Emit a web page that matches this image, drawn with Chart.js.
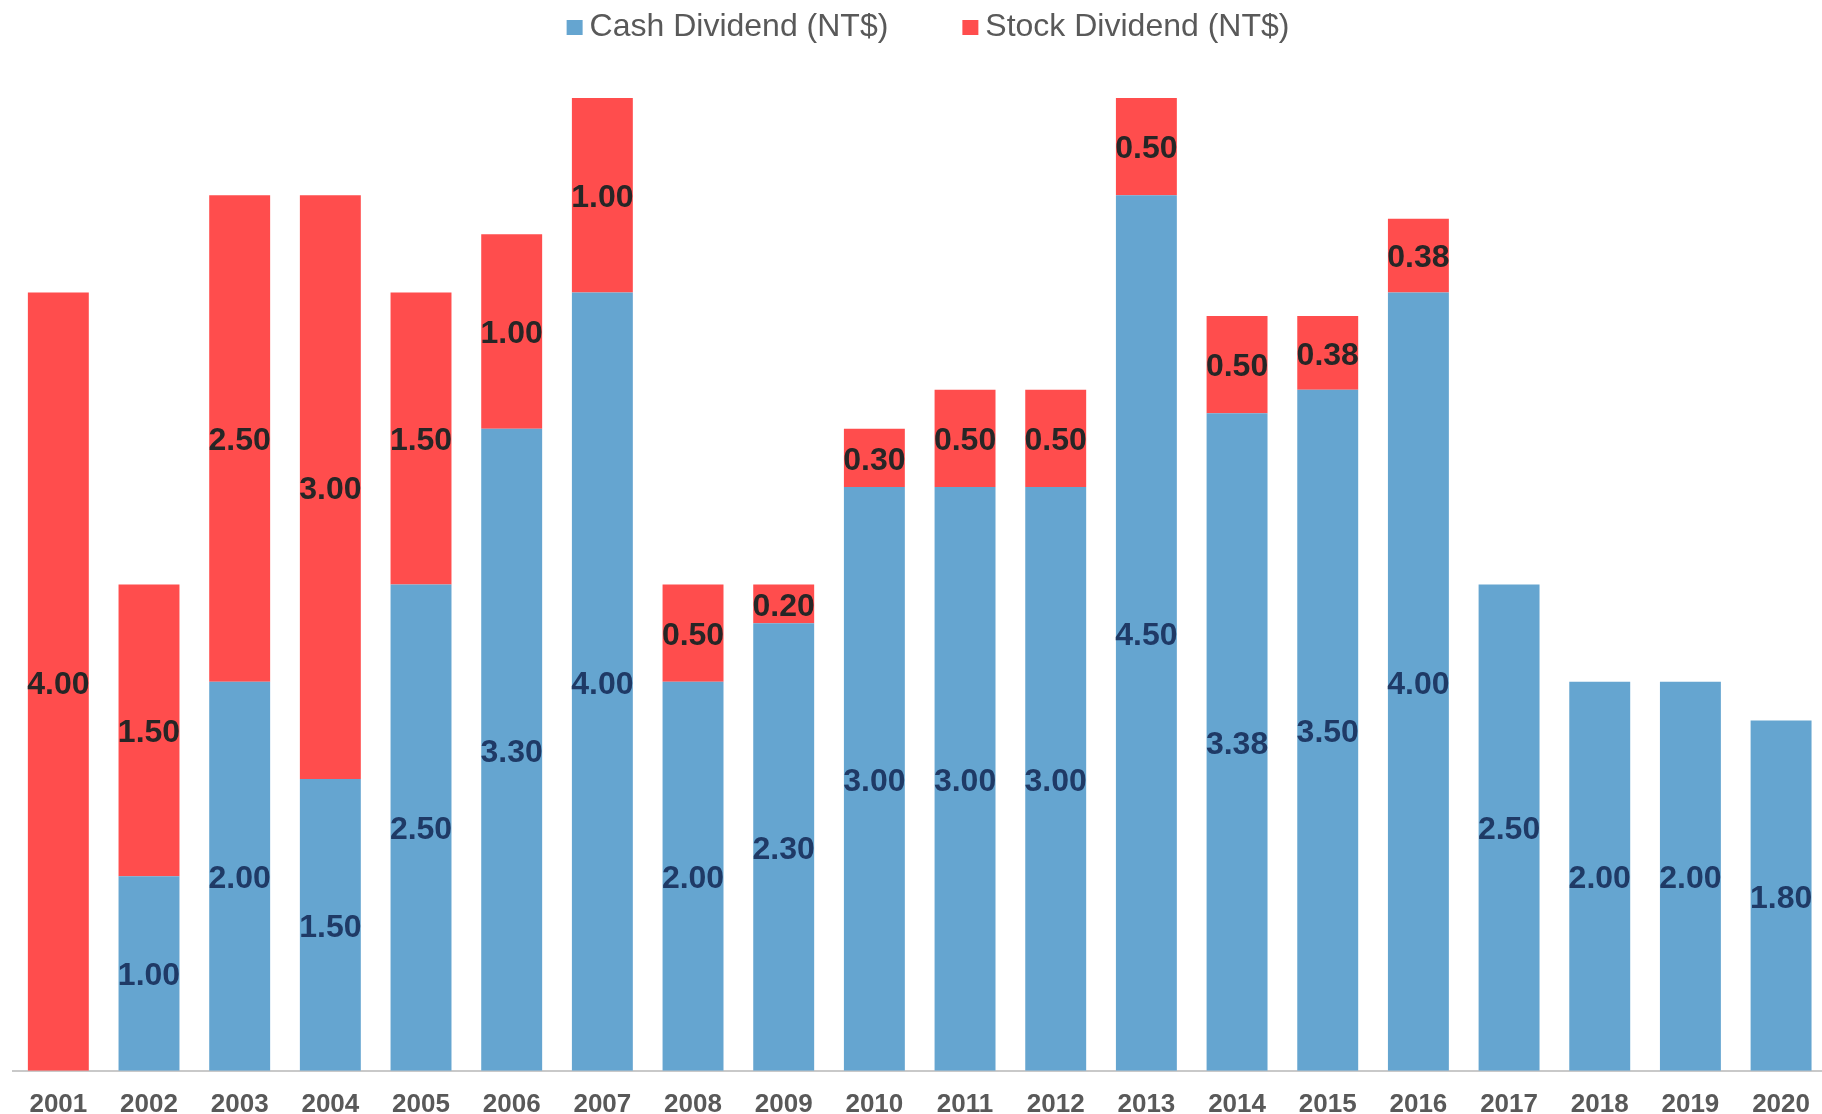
<!DOCTYPE html>
<html>
<head>
<meta charset="utf-8">
<script src="https://cdn.jsdelivr.net/npm/chart.js@4.4.1/dist/chart.umd.min.js"></script>
<style>
  html, body { margin: 0; padding: 0; background: #ffffff; overflow: hidden; width: 1822px; height: 1114px; }
  #wrap { position: absolute; left: 0; top: 0; width: 1828px; height: 1114px; }
</style>
</head>
<body>
<div id="wrap"><canvas id="c" width="1828" height="1114"></canvas></div>
<script>
const years = ['2001','2002','2003','2004','2005','2006','2007','2008','2009','2010',
               '2011','2012','2013','2014','2015','2016','2017','2018','2019','2020'];
const cashDividend  = [0, 1.00, 2.00, 1.50, 2.50, 3.30, 4.00, 2.00, 2.30, 3.00,
                       3.00, 3.00, 4.50, 3.38, 3.50, 4.00, 2.50, 2.00, 2.00, 1.80];
const stockDividend = [4.00, 1.50, 2.50, 3.00, 1.50, 1.00, 1.00, 0.50, 0.20, 0.30,
                       0.50, 0.50, 0.50, 0.50, 0.38, 0.38, 0, 0, 0, 0];
const seriesNames = ['Cash Dividend (NT$)', 'Stock Dividend (NT$)'];

const FONT = "'Liberation Sans', Arial, sans-serif";
const BLUE = '#65a5d0';
const RED = '#ff4d4d';

// legend swatch: square drawn offset to the right inside a symmetric image
function swatch(color) {
  const c = document.createElement('canvas');
  c.width = 50; c.height = 18;
  const g = c.getContext('2d');
  g.fillStyle = color;
  g.fillRect(26, 2, 16, 15);
  return c;
}
const swatches = [swatch(BLUE), swatch(RED)];

const legendTweak = {
  id: 'legendTweak',
  beforeInit(chart) {
    const lg = chart.legend;
    if (!lg) return;
    const origFit = lg.fit;
    lg.fit = function () { origFit.call(this); this.height = 153; };
    const origDraw = lg.draw;
    lg.draw = function () {
      const ctx = this.ctx;
      ctx.save();
      ctx.translate(3, 1);
      origDraw.apply(this, arguments);
      ctx.restore();
    };
  }
};

const segmentLabels = {
  id: 'segmentLabels',
  afterDatasetsDraw(chart) {
    const ctx = chart.ctx;
    const colors = ['#1f3a66', '#262626'];
    ctx.save();
    ctx.font = 'bold 32px ' + FONT;
    ctx.textAlign = 'center';
    ctx.textBaseline = 'middle';
    chart.data.datasets.forEach((ds, di) => {
      const meta = chart.getDatasetMeta(di);
      meta.data.forEach((bar, i) => {
        const v = ds.data[i];
        if (!v) return;
        const p = bar.getProps(['x', 'y', 'base'], true);
        ctx.fillStyle = colors[di];
        ctx.fillText(v.toFixed(2), p.x, (p.y + p.base) / 2 + 3);
      });
    });
    ctx.restore();
  }
};

new Chart(document.getElementById('c'), {
  type: 'bar',
  data: {
    labels: years,
    datasets: [
      { label: seriesNames[0], data: cashDividend, backgroundColor: BLUE, borderWidth: 0,
        categoryPercentage: 1.0, barPercentage: 0.672 },
      { label: seriesNames[1], data: stockDividend, backgroundColor: RED, borderWidth: 0,
        categoryPercentage: 1.0, barPercentage: 0.672 }
    ]
  },
  options: {
    responsive: false,
    animation: false,
    devicePixelRatio: 1,
    layout: { padding: { left: 13, right: 0, top: -55, bottom: -24 } },
    plugins: {
      legend: {
        display: true,
        position: 'top',
        labels: {
          boxWidth: 16, boxHeight: 16, padding: 65,
          usePointStyle: true, pointStyleWidth: 16,
          color: '#595959',
          font: { family: FONT, size: 32 },
          generateLabels(chart) {
            const items = Chart.defaults.plugins.legend.labels.generateLabels(chart);
            items.forEach((it, i) => { it.pointStyle = swatches[i]; });
            return items;
          }
        }
      },
      tooltip: { enabled: false }
    },
    scales: {
      x: {
        stacked: true,
        grid: { display: true, color: 'rgba(0,0,0,0)', drawTicks: false },
        border: { display: true, color: '#c9c9c9', width: 2 },
        ticks: { color: '#595959', padding: 18, font: { family: FONT, size: 26, weight: 'bold' } }
      },
      y: {
        stacked: true,
        display: false,
        min: 0,
        max: 5
      }
    }
  },
  plugins: [legendTweak, segmentLabels]
});
</script>
</body>
</html>
